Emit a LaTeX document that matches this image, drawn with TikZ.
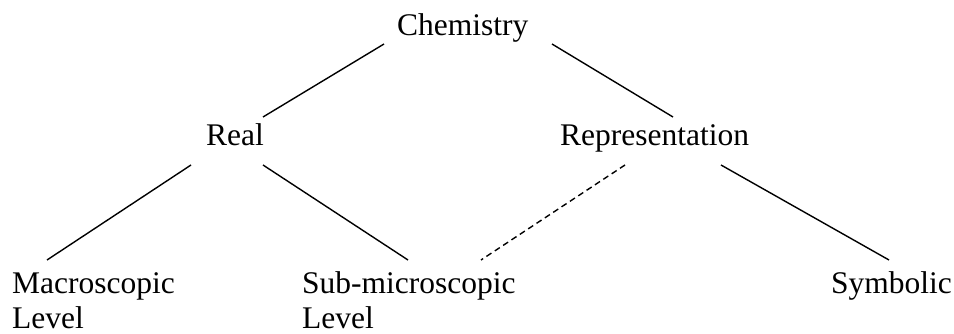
\documentclass[tikz,border=0pt]{standalone}
\usepackage{fontspec}
\setmainfont{Liberation Serif}
\usetikzlibrary{calc}
\begin{document}
\begin{tikzpicture}[x=1pt,y=-1pt,
  lbl/.style={inner sep=0pt,anchor=base west,font=\fontsize{31.5}{35}\selectfont,align=left},
  link/.style={line width=1.4pt},
  dlink/.style={line width=1.4pt,dash pattern=on 6pt off 4pt}]
\useasboundingbox (0,0) rectangle (954,334);
\node[lbl] (chem) at (397,36) {Chemistry};
\node[lbl] (real) at (206,146) {Real};
\node[lbl] (rep) at (560,146) {Representation};
\node[lbl] (macro) at (12,328) {Macroscopic\\[0pt]Level};
\node[lbl] (sub) at (302,328) {Sub-microscopic\\[0pt]Level};
\node[lbl] (sym) at (831,293) {Symbolic};
\draw[link] ($(chem.base west)+(-13,8)$) -- ($(real.base west)+(57,-29)$);
\draw[link] ($(chem.base west)+(155,8)$) -- ($(rep.base west)+(113,-29)$);
\draw[link] ($(real.base west)+(-15,19)$) -- ($(macro.base west)+(35,-68)$);
\draw[link] ($(real.base west)+(57,19)$) -- ($(sub.base west)+(106,-68)$);
\draw[dlink] ($(rep.base west)+(65,19)$) -- ($(sub.base west)+(179,-68)$);
\draw[link] ($(rep.base west)+(161,19)$) -- ($(sym.base west)+(58,-33)$);
\end{tikzpicture}
\end{document}
